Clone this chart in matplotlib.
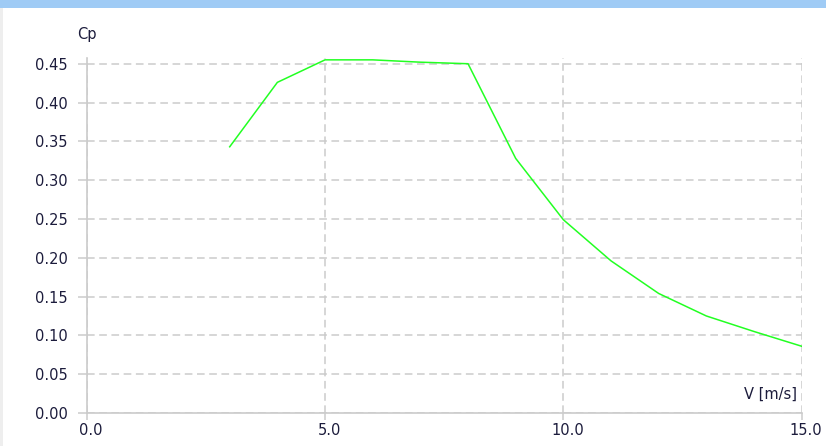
import matplotlib
matplotlib.use('Agg')
import matplotlib.pyplot as plt
import matplotlib.transforms as mtrans
from matplotlib.patches import Rectangle

# power coefficient curve vs wind speed
wind_speed = [3, 4, 5, 6, 7, 8, 9, 10, 11, 12, 13, 14, 15]
cp = [0.343, 0.426, 0.455, 0.455, 0.452, 0.450, 0.328, 0.249, 0.196, 0.154, 0.125, 0.105, 0.086]

x_ticks = [0, 5, 10, 15]
y_ticks = [0.00, 0.05, 0.10, 0.15, 0.20, 0.25, 0.30, 0.35, 0.40, 0.45]

grid_col = '#cbcbcb'
text_col = '#1c1c3c'
fsize = 10.5

fig = plt.figure(figsize=(8.26, 4.46), dpi=100)
fig.patch.set_facecolor('white')

# window frame bits: blue strip on top, gray strip on the left
fig.patches.append(Rectangle((0, 1 - 8 / 446), 1, 8 / 446, transform=fig.transFigure,
                             facecolor='#9fcbf5', edgecolor='none', zorder=0))
fig.patches.append(Rectangle((0, 0), 3 / 826, 1 - 8 / 446, transform=fig.transFigure,
                             facecolor='#eeeeee', edgecolor='none', zorder=0))

ax = fig.add_axes([86.7 / 826, 33 / 446, 715 / 826, 354.7 / 446])
ax.set_xlim(0, 15)
ax.set_ylim(0, 0.457)

ax.plot(wind_speed, cp, color='#22ff22', lw=1.1, zorder=3)

ax.set_xticks(x_ticks)
ax.set_xticklabels(['%.1f' % v for v in x_ticks])
ax.set_yticks(y_ticks)
ax.set_yticklabels(['%.2f' % v for v in y_ticks])

for s in ['top', 'right']:
    ax.spines[s].set_visible(False)
for s in ['left', 'bottom']:
    ax.spines[s].set_color(grid_col)
    ax.spines[s].set_linewidth(1.2)

ax.grid(True, color=grid_col, linestyle=(0, (5, 3)), linewidth=1.1)
ax.tick_params(axis='y', length=6.5, width=1.1, color=grid_col, pad=7,
               labelsize=fsize, labelcolor=text_col)
ax.tick_params(axis='x', length=5, width=1.1, color=grid_col, pad=2,
               labelsize=fsize, labelcolor=text_col)

# x labels sit a touch right of their tick
offset = mtrans.ScaledTranslation(4 / 100, 0, fig.dpi_scale_trans)
for lbl in ax.get_xticklabels():
    lbl.set_transform(lbl.get_transform() + offset)

ax.text(-0.2, 0.478, 'Cp', fontsize=fsize, color=text_col, ha='left', va='bottom',
        clip_on=False)
ax.text(14.9, 0.014, 'V [m/s]', fontsize=fsize, color=text_col, ha='right', va='bottom')

fig.savefig('out.png', dpi=100)
